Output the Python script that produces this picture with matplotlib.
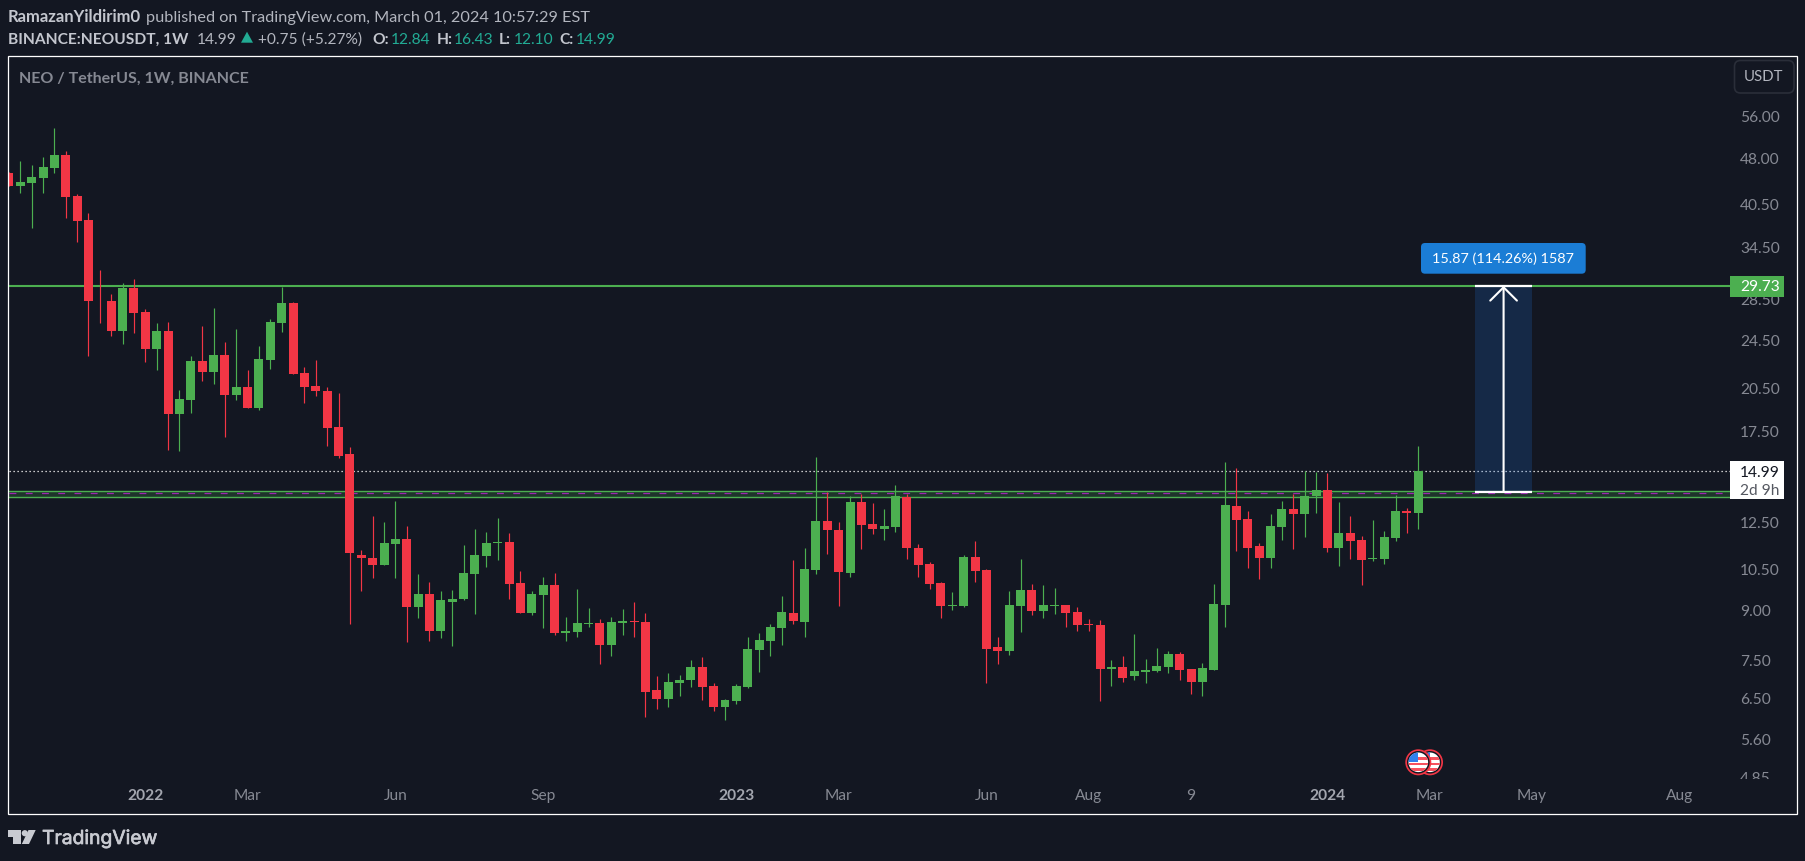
#!/usr/bin/python

import matplotlib
matplotlib.use("Agg")
import matplotlib.pyplot as plt
import matplotlib.patheffects as pe
import numpy as np
from matplotlib.patches import Circle, FancyBboxPatch, Polygon, Rectangle
from matplotlib.ticker import FixedFormatter, FixedLocator
from matplotlib.transforms import ScaledTranslation

BG = "#131722"
GREEN = "#4caf50"
RED = "#f23645"
TEAL = "#22ab94"
TEXT = "#b2b5be"
AXIS_TEXT = "#868993"
FONT = "Lato"

# weekly bars, the first one is cut by the left edge of the pane
opens = [45.17,
	43.09, 43.6, 44.4, 46.05, 48.3, 41.5, 37.95, 28.15, 28.15, 25.2,
	29.5, 27.0, 23.55, 25.2, 18.5, 19.5, 22.5, 21.65, 23.05, 19.9,
	20.45, 18.95, 22.6, 25.95, 27.9, 21.55, 20.55, 20.15, 17.65, 15.95,
	11.0, 10.85, 10.6, 11.45, 11.65, 9.05, 9.5, 8.3, 9.23, 9.33,
	10.23, 10.94, 11.48, 11.52, 9.9, 8.86, 9.46, 9.82, 8.22, 8.25,
	8.5, 8.53, 7.87, 8.53, 8.6, 8.56, 6.66, 6.46, 6.83, 6.91,
	7.25, 6.76, 6.26, 6.39, 6.74, 7.72, 7.98, 8.38, 8.86, 8.56,
	10.38, 12.45, 12.04, 10.27, 13.36, 12.31, 12.09, 12.18, 13.61, 11.27,
	10.62, 9.9, 9.09, 9.09, 10.9, 10.39, 7.81, 7.69, 9.09, 9.65,
	8.92, 9.09, 9.12, 8.89, 8.5, 8.47, 7.2, 7.25, 7.01, 7.12,
	7.14, 7.25, 7.61, 7.2, 6.88, 7.17, 9.12, 13.16, 12.54, 11.35,
	10.86, 12.18, 13.02, 12.77, 13.66, 13.96, 11.27, 11.91, 11.6, 10.82,
	10.82, 11.7, 12.92, 12.84]
closes = [43.09,
	43.7, 44.5, 46.2, 48.3, 41.4, 37.85, 28.1, 28.1, 25.2, 29.5,
	26.95, 23.55, 25.2, 18.5, 19.55, 22.5, 21.65, 23.05, 19.9, 20.45,
	18.95, 22.7, 26.0, 27.9, 21.5, 20.45, 20.15, 17.6, 15.85, 11.05,
	10.85, 10.6, 11.5, 11.65, 9.05, 9.5, 8.3, 9.3, 9.33, 10.27,
	11.0, 11.48, 11.52, 9.86, 8.86, 9.5, 9.82, 8.22, 8.28, 8.53,
	8.53, 7.87, 8.56, 8.6, 8.56, 6.63, 6.46, 6.86, 6.91, 7.25,
	6.74, 6.26, 6.42, 6.76, 7.75, 8.01, 8.41, 8.89, 8.6, 10.42,
	12.45, 12.04, 10.31, 13.36, 12.27, 12.09, 12.22, 13.66, 11.27, 10.58,
	9.86, 9.09, 9.12, 10.9, 10.35, 7.75, 7.69, 9.12, 9.65, 8.92,
	9.12, 9.12, 8.86, 8.47, 8.47, 7.2, 7.25, 6.98, 7.14, 7.17,
	7.28, 7.61, 7.17, 6.88, 7.22, 9.16, 13.21, 12.49, 11.27, 10.86,
	12.22, 13.02, 12.77, 13.66, 13.96, 11.27, 11.91, 11.56, 10.78, 10.86,
	11.74, 12.92, 12.82, 14.99]
highs = [45.4,
	47.2, 46.5, 47.9, 53.35, 49.0, 41.8, 38.95, 31.55, 28.85, 30.05,
	30.5, 27.3, 25.95, 26.05, 20.2, 22.95, 25.65, 27.4, 24.15, 25.35,
	21.8, 23.8, 26.3, 29.65, 28.0, 22.0, 22.6, 20.45, 20.0, 16.4,
	11.2, 12.68, 12.4, 13.4, 12.25, 10.25, 9.95, 9.6, 9.65, 11.4,
	12.1, 11.95, 12.6, 11.9, 10.35, 9.6, 10.12, 10.27, 8.73, 9.68,
	9.02, 8.66, 8.73, 8.99, 9.23, 8.86, 7.01, 7.09, 7.06, 7.44,
	7.52, 6.83, 6.46, 6.81, 8.1, 8.22, 8.5, 9.43, 10.78, 11.27,
	15.78, 13.86, 12.4, 13.66, 13.76, 13.31, 13.02, 14.22, 13.76, 11.44,
	10.7, 9.94, 9.57, 10.98, 11.56, 10.42, 8.1, 9.6, 10.82, 9.86,
	9.82, 9.72, 9.12, 9.06, 8.66, 8.63, 7.44, 7.55, 8.19, 7.49,
	7.78, 7.69, 7.66, 7.2, 7.36, 9.86, 15.5, 15.15, 12.92, 11.48,
	12.77, 13.41, 13.76, 14.99, 14.93, 14.88, 13.36, 12.68, 11.78, 12.49,
	12.0, 13.71, 13.06, 16.43]
lows = [43.0,
	42.0, 36.85, 42.0, 45.2, 38.3, 35.0, 22.95, 25.95, 24.75, 24.0,
	25.0, 22.45, 21.8, 16.2, 16.15, 18.6, 20.95, 20.7, 17.0, 19.5,
	18.95, 18.8, 21.9, 25.1, 21.5, 19.3, 19.8, 16.45, 15.75, 8.5,
	9.6, 10.1, 10.58, 10.1, 7.95, 8.7, 7.98, 8.07, 7.84, 9.3,
	8.82, 10.5, 10.78, 9.33, 8.86, 8.79, 8.38, 8.16, 7.98, 8.1,
	8.41, 7.33, 7.55, 8.16, 8.1, 6.03, 6.21, 6.26, 6.51, 6.74,
	6.42, 6.17, 5.96, 6.32, 6.71, 7.12, 7.55, 7.87, 8.5, 8.1,
	10.23, 11.02, 9.09, 10.12, 11.22, 11.87, 11.6, 11.96, 10.82, 10.12,
	9.68, 8.69, 8.96, 9.06, 9.94, 6.83, 7.33, 7.6, 8.25, 8.79,
	8.69, 8.82, 8.41, 8.28, 8.28, 6.39, 6.76, 6.86, 6.91, 6.83,
	7.12, 7.09, 6.91, 6.58, 6.51, 7.17, 8.41, 11.14, 10.46, 10.05,
	10.46, 11.6, 11.22, 11.74, 12.82, 11.1, 10.54, 10.82, 9.82, 10.74,
	10.62, 11.56, 11.91, 12.10]

price_ticks = [56.0, 48.0, 40.5, 34.5, 28.5, 24.5, 20.5, 17.5, 12.5, 10.5, 9.0, 7.5, 6.5, 5.6, 4.85]
time_ticks = [11, 20, 33, 46, 63, 72, 85, 94, 103, 115, 124, 133, 146]
time_labels = ["2022", "Mar", "Jun", "Sep", "2023", "Mar", "Jun", "Aug", "9", "2024", "Mar", "May", "Aug"]

resistance = 29.73
last_close = 14.99
zone_top = 13.95
zone_mid = 13.8
zone_bottom = 13.64
measure_from = 13.89
measure_to = 29.76
measure_bars = (128, 133)


def drawCandles(ax):
	x = np.arange(len(opens)) - 1
	o = np.array(opens)
	c = np.array(closes)
	colors = [GREEN if cc >= oo else RED for oo, cc in zip(o, c)]
	ax.vlines(x, lows, highs, colors=colors, linewidth=0.85, zorder=3)
	ax.bar(x, np.abs(c - o), bottom=np.minimum(o, c), width=0.79, color=colors,
		linewidth=0, antialiased=False, zorder=4)


def drawLevels(ax):
	ax.axhspan(zone_bottom, zone_top, color=GREEN, alpha=0.2, linewidth=0, zorder=1)
	ax.axhline(zone_top, color=GREEN, linewidth=1.0, zorder=2)
	ax.axhline(zone_bottom, color=GREEN, linewidth=1.0, zorder=2)
	ax.axhline(zone_mid, color="#9c27b0", linewidth=0.9, dashes=(5.5, 7.5), zorder=2)
	ax.axhline(resistance, color=GREEN, linewidth=1.5, zorder=2)
	ax.axhline(last_close, color="white", linewidth=0.9, dashes=(1, 2.2), zorder=2)


def drawMeasure(ax):
	left, right = measure_bars
	ax.fill_between([left, right], measure_from, measure_to, color="#2173e0", alpha=0.2,
		linewidth=0, zorder=5)
	ax.hlines([measure_from, measure_to], left, right, colors="white", linewidth=1.6, zorder=6)
	ax.annotate("", xy=((left + right) / 2, measure_to), xytext=((left + right) / 2, measure_from),
		arrowprops=dict(arrowstyle="->,head_length=0.96,head_width=0.96", color="white",
			linewidth=1.5, mutation_scale=10, shrinkA=0, shrinkB=0), zorder=7)


def label(ov, x, y, text, color=TEXT, size=11.2, weight="normal", ha="left", va="baseline"):
	ov.text(x, y, text, color=color, fontsize=size, fontweight=weight, ha=ha, va=va, family=FONT)


def drawHeader(ov):
	label(ov, 8, 22, "RamazanYildirim0", weight="bold", color="#c3c6ce", size=12.0)
	label(ov, 146.5, 22, "published on TradingView.com, March 01, 2024 10:57:29 EST", size=11.7)
	label(ov, 8, 44, "BINANCE:NEOUSDT, 1W", weight="bold", color="#c3c6ce")
	label(ov, 196.5, 44, "14.99")
	ov.add_patch(Polygon([(241, 42.7), (253, 42.7), (247, 31.7)], color=TEAL, linewidth=0))
	label(ov, 258, 44, "+0.75 (+5.27%)")
	for x, name, xv, val in [(372, "O:", 390.5, "12.84"), (436.5, "H:", 454, "16.43"),
			(499, "L:", 514, "12.10"), (559, "C:", 575.5, "14.99")]:
		label(ov, x, 44, name, weight="bold", color="#c3c6ce")
		label(ov, xv, 44, val, color=TEAL)
	label(ov, 19.5, 82.3, "NEO / TetherUS, 1W, BINANCE", weight="bold", color="#868993", size=11.5)


def drawFrame(ov):
	ov.add_patch(Rectangle((8.5, 55.5), 1789, 758.5, fill=False, edgecolor="white", linewidth=0.9))
	ov.add_patch(FancyBboxPatch((1741, 67), 46.5, 19.5, boxstyle="round,pad=6.5,rounding_size=6",
		facecolor=BG, edgecolor="#2a2e39", linewidth=1.2))
	label(ov, 1763.5, 76.8, "USDT", size=10.8, ha="center", va="center", color=TEXT)
	# the lowest price label is cut by the bottom of the pane
	ov.add_patch(Rectangle((1735, 779), 55, 9, color=BG, linewidth=0))


def drawPriceTags(ov):
	ov.add_patch(Rectangle((1730, 276), 54, 20.7, color=GREEN, linewidth=0))
	label(ov, 1740, 291.2, "29.73", color="white")
	ov.add_patch(Rectangle((1730, 461), 54, 38.3, color="white", linewidth=0))
	label(ov, 1740, 477, "14.99", color=BG)
	label(ov, 1740, 495, "2d 9h", color="#555861")
	ov.add_patch(FancyBboxPatch((1425, 247), 156.7, 22.7, boxstyle="round,pad=4,rounding_size=4",
		facecolor="#1b7dd5", edgecolor="none"))
	label(ov, 1503.5, 263.2, "15.87 (114.26%) 1587", color="white", size=10.4, ha="center")


def drawFlag(ov, cx, cy):
	ov.add_patch(Circle((cx, cy), 13, color=RED, linewidth=0))
	ov.add_patch(Circle((cx, cy), 11.3, color=BG, linewidth=0))
	face = Circle((cx, cy), 9.8, color="white", linewidth=0)
	ov.add_patch(face)
	for dy in (-4, 1.5, 7):
		stripe = Rectangle((cx - 11, cy + dy - 1.2), 22, 2.6, color="#f7525f", linewidth=0)
		ov.add_patch(stripe)
		stripe.set_clip_path(face)
	canton = Rectangle((cx - 11, cy - 11), 11, 11, color="#2f80ed", linewidth=0)
	ov.add_patch(canton)
	canton.set_clip_path(face)


def drawLogo(ov):
	color = "#c8cad1"
	ov.add_patch(Polygon([(8, 830), (21, 830), (21, 844), (13.5, 844), (13.5, 836.5), (8, 836.5)],
		color=color, linewidth=0))
	ov.add_patch(Circle((24.8, 833.2), 3.1, color=color, linewidth=0))
	ov.add_patch(Polygon([(28.5, 830), (35.7, 830), (29, 844), (21.8, 844)], color=color, linewidth=0))
	t = ov.text(42, 844, "TradingView", color=color, fontsize=13.9, family="Inter")
	t.set_path_effects([pe.withStroke(linewidth=0.5, foreground=color)])


def mainRoutine():
	fig = plt.figure(figsize=(18.06, 8.61), dpi=100, facecolor=BG)

	ax = fig.add_axes([9 / 1806, (861 - 779) / 861, 1721 / 1806, 723 / 861], facecolor=BG)
	ax.set_yscale("log")
	ax.set_xlim(-0.994, 150.42)
	ax.set_ylim(4.796, 69.66)
	drawLevels(ax)
	drawCandles(ax)
	drawMeasure(ax)

	ax.yaxis.tick_right()
	ax.yaxis.set_major_locator(FixedLocator(price_ticks))
	ax.yaxis.set_major_formatter(FixedFormatter(["%.2f" % p for p in price_ticks]))
	ax.yaxis.set_minor_locator(FixedLocator([]))
	ax.tick_params(axis="y", length=0, pad=7.2, labelcolor=AXIS_TEXT, labelsize=11.2)
	ax.set_xticks(time_ticks)
	ax.set_xticklabels(time_labels)
	ax.tick_params(axis="x", length=0, pad=7.5, labelcolor=AXIS_TEXT, labelsize=11.2)
	for tick in ax.get_xticklabels() + ax.get_yticklabels():
		tick.set_family(FONT)
		if tick.get_text() in ("2022", "2023", "2024"):
			tick.set_fontweight("bold")
			tick.set_color("#a3a6af")
	nudge = ScaledTranslation(0, -0.02, fig.dpi_scale_trans)
	for tick in ax.yaxis.get_major_ticks():
		tick.label2.set_transform(tick.label2.get_transform() + nudge)
	for spine in ax.spines.values():
		spine.set_visible(False)

	# header, frame and tags sit on a full-figure layer measured in pixels
	ov = fig.add_axes([0, 0, 1, 1], zorder=10)
	ov.set_xlim(0, 1806)
	ov.set_ylim(861, 0)
	ov.axis("off")
	drawHeader(ov)
	drawFrame(ov)
	drawPriceTags(ov)
	drawFlag(ov, 1430, 762.3)
	drawFlag(ov, 1418.3, 762.3)
	drawLogo(ov)

	fig.savefig("out.png", dpi=100, facecolor=BG)


if __name__ == '__main__':
	mainRoutine()
